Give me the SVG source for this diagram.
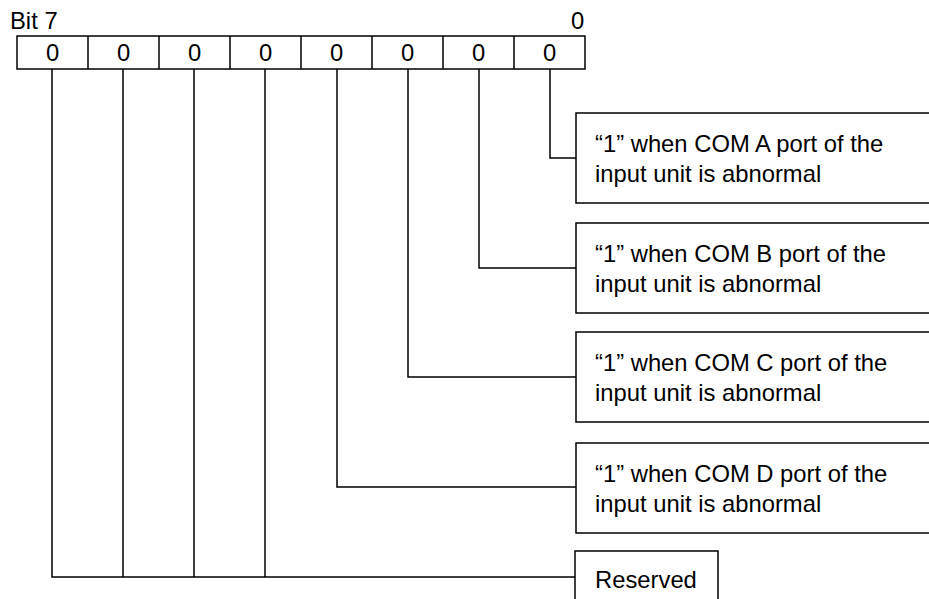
<svg xmlns="http://www.w3.org/2000/svg" width="929" height="599" viewBox="0 0 929 599">
<style>
text{font-family:"Liberation Sans",Arial,sans-serif;font-size:23.8px;fill:#000}
.c{text-anchor:middle}
.b{fill:#fff;stroke:#000;stroke-width:1.5}
.w{fill:none;stroke:#000;stroke-width:1.5}
</style>
<rect width="929" height="599" fill="#fff"/>
<g id="register">
<text x="10" y="29">Bit 7</text>
<text x="571" y="29">0</text>
<rect class="b" x="17" y="36" width="568" height="33" stroke-width="2"/>
<path class="w" d="M88 36V69M159 36V69M230 36V69M301 36V69M372 36V69M443 36V69M514 36V69" stroke-width="2"/>
<text class="c" x="52.5" y="61">0</text>
<text class="c" x="123.5" y="61">0</text>
<text class="c" x="194.5" y="61">0</text>
<text class="c" x="265.5" y="61">0</text>
<text class="c" x="336.5" y="61">0</text>
<text class="c" x="407.5" y="61">0</text>
<text class="c" x="478.5" y="61">0</text>
<text class="c" x="549.5" y="61">0</text>
</g>
<g id="connectors">
<path class="w" d="M550 69V158H576"/>
<path class="w" d="M479 69V268H576"/>
<path class="w" d="M408 69V377H576"/>
<path class="w" d="M337 69V487H576"/>
<path class="w" d="M52 69V577H575M123 69V577M194 69V577M265 69V577"/>
</g>
<g id="bitA">
<rect class="b" x="576" y="113" width="370" height="90"/>
<text x="595" y="152">“1” when COM A port of the</text>
<text x="595" y="182">input unit is abnormal</text>
</g>
<g id="bitB">
<rect class="b" x="576" y="223" width="370" height="90"/>
<text x="595" y="262">“1” when COM B port of the</text>
<text x="595" y="292">input unit is abnormal</text>
</g>
<g id="bitC">
<rect class="b" x="576" y="332" width="370" height="90"/>
<text x="595" y="371">“1” when COM C port of the</text>
<text x="595" y="401">input unit is abnormal</text>
</g>
<g id="bitD">
<rect class="b" x="576" y="443" width="370" height="90"/>
<text x="595" y="482">“1” when COM D port of the</text>
<text x="595" y="512">input unit is abnormal</text>
</g>
<g id="reserved">
<rect class="b" x="575" y="551" width="143" height="60"/>
<text x="595" y="588">Reserved</text>
</g>
</svg>
